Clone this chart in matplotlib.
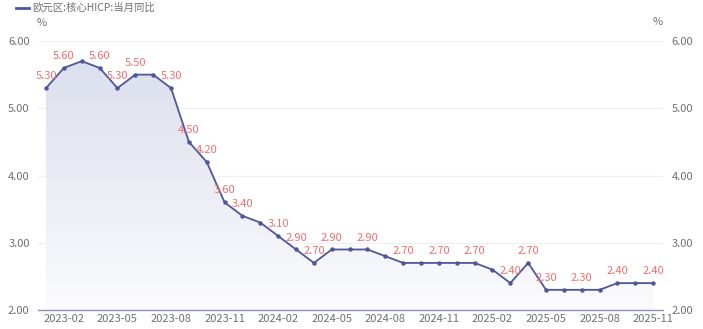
import numpy as np
import matplotlib
matplotlib.use("Agg")
import matplotlib.pyplot as plt
from matplotlib.patches import Polygon

plt.rcParams['font.family'] = ['Noto Sans CJK SC', 'DejaVu Sans']

# 欧元区核心HICP 当月同比, 2023-01 ~ 2025-11
meses = ["2023-01", "2023-02", "2023-03", "2023-04", "2023-05", "2023-06",
         "2023-07", "2023-08", "2023-09", "2023-10", "2023-11", "2023-12",
         "2024-01", "2024-02", "2024-03", "2024-04", "2024-05", "2024-06",
         "2024-07", "2024-08", "2024-09", "2024-10", "2024-11", "2024-12",
         "2025-01", "2025-02", "2025-03", "2025-04", "2025-05", "2025-06",
         "2025-07", "2025-08", "2025-09", "2025-10", "2025-11"]
valores = [5.3, 5.6, 5.7, 5.6, 5.3, 5.5, 5.5, 5.3, 4.5, 4.2, 3.6, 3.4,
           3.3, 3.1, 2.9, 2.7, 2.9, 2.9, 2.9, 2.8, 2.7, 2.7, 2.7, 2.7,
           2.7, 2.6, 2.4, 2.7, 2.3, 2.3, 2.3, 2.3, 2.4, 2.4, 2.4]
# puntos con etiqueta de valor
etiquetados = ["2023-01", "2023-02", "2023-04", "2023-05", "2023-06", "2023-08",
               "2023-09", "2023-10", "2023-11", "2023-12", "2024-02", "2024-03",
               "2024-04", "2024-05", "2024-07", "2024-09", "2024-11", "2025-01",
               "2025-03", "2025-04", "2025-05", "2025-07", "2025-09", "2025-11"]
ticks_x = ["2023-02", "2023-05", "2023-08", "2023-11", "2024-02", "2024-05",
           "2024-08", "2024-11", "2025-02", "2025-05", "2025-08", "2025-11"]
ticks_y = [2.0, 3.0, 4.0, 5.0, 6.0]

color_linea = "#4f5699"
color_etiqueta = "#f46e6e"
color_texto = "#707070"

x = np.arange(len(meses))
y = np.array(valores)

fig = plt.figure(figsize=(7.03, 3.29), dpi=100)
ax = fig.add_axes([38 / 703, 19 / 329, 625 / 703, 269 / 329])
ax.set_xlim(-0.45, len(meses) - 1 + 0.55)
ax.set_ylim(2.0, 6.0)

# relleno con degradado bajo la curva
grad = np.linspace(0, 1, 256).reshape(-1, 1)
cmap = matplotlib.colors.LinearSegmentedColormap.from_list(
    "g", ["#fbfbfd", "#dcdfed"])
img = ax.imshow(grad, cmap=cmap, aspect="auto", origin="lower",
                extent=[x[0], x[-1], 2.0, max(valores)], zorder=1)
poly = Polygon(np.column_stack([np.r_[x[0], x, x[-1]],
                                np.r_[2.0, y, 2.0]]),
               closed=True, facecolor="none", edgecolor="none")
ax.add_patch(poly)
img.set_clip_path(poly)

ax.plot(x, y, color=color_linea, lw=1.3, marker="o", ms=2.2, zorder=3)

for m in etiquetados:
    i = meses.index(m)
    ax.annotate(f"{valores[i]:.2f}", (x[i], y[i]), xytext=(0, 5),
                textcoords="offset points", ha="center", va="bottom",
                fontsize=8, color=color_etiqueta, zorder=4)

ax.set_yticks(ticks_y)
ax.set_yticklabels([f"{v:.2f}" for v in ticks_y])
ax.yaxis.grid(True, color="#eef0f5", lw=0.9)
ax.set_axisbelow(True)
ax.set_xticks([meses.index(t) for t in ticks_x])
ax.set_xticklabels(ticks_x)
ax.tick_params(axis="both", length=0, labelsize=8, colors=color_texto)
ax.tick_params(axis="x", pad=3)
ax.tick_params(axis="y", pad=6, labelright=True)

for lado in ["top", "left", "right"]:
    ax.spines[lado].set_visible(False)
ax.spines["bottom"].set_color("#8d92b8")
ax.spines["bottom"].set_linewidth(1.0)

# unidades y leyenda
fig.text(42 / 703, 1 - 23 / 329, "%", fontsize=8, color=color_texto,
         ha="center", va="center")
fig.text(658 / 703, 1 - 22 / 329, "%", fontsize=8, color=color_texto,
         ha="center", va="center")
fig.lines.append(plt.Line2D([16 / 703, 29 / 703], [1 - 8 / 329, 1 - 8 / 329],
                            color=color_linea, lw=2, transform=fig.transFigure))
fig.text(32 / 703, 1 - 8 / 329, "欧元区:核心HICP:当月同比", fontsize=7.5,
         color=color_texto, ha="left", va="center")

fig.savefig("out.png", dpi=100)
